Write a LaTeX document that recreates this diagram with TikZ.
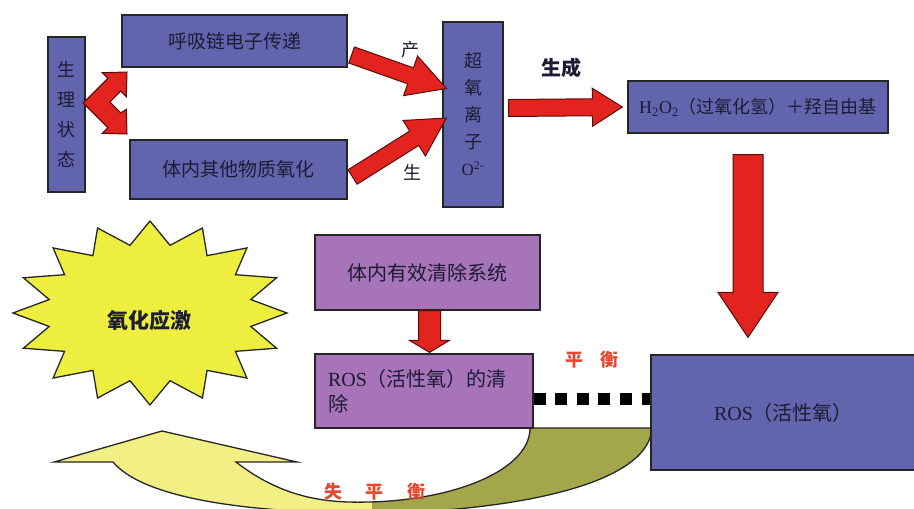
\documentclass[tikz,border=0pt]{standalone}
\usepackage{fontspec}
\setmainfont{Liberation Serif}
\newfontfamily\cjk{Noto Sans CJK SC}
\usetikzlibrary{calc}
\definecolor{boxblue}{HTML}{6264AE}
\definecolor{boxpurple}{HTML}{A774B9}
\definecolor{arrred}{HTML}{E2231E}
\definecolor{arrdark}{HTML}{5A0C0C}
\definecolor{staryellow}{HTML}{EEEE40}
\definecolor{arrowyellow}{HTML}{F2EF84}
\definecolor{arrowolive}{HTML}{A4A64C}
\definecolor{txt}{HTML}{1C1C34}
\definecolor{redtxt}{HTML}{E8472F}
\tikzset{
 bluebox/.style={draw=black!85, line width=1.2pt, fill=boxblue, inner sep=0pt, text=txt},
 purplebox/.style={draw=black!85, line width=1.2pt, fill=boxpurple, inner sep=0pt, text=txt},
 fatarr/.style={fill=arrred, draw=arrdark, line width=1pt, line join=miter},
 lbl/.style={font=\cjk\fontsize{18}{18}\selectfont, text=txt},
 redlbl/.style={font=\cjk\bfseries\fontsize{18}{18}\selectfont, text=redtxt},
 dotline/.style={line width=12pt, dash pattern=on 12pt off 9.6pt, black},
}
\newcommand{\fatarrow}[5]{%
  \coordinate (fab) at ($(#2)!#5!(#1)$);
  \path[fatarr] ($(#1)!#3!90:(#2)$) -- ($(fab)!#3!-90:(#1)$) -- ($(fab)!#4!-90:(#1)$) -- (#2)
    -- ($(fab)!#4!90:(#1)$) -- ($(fab)!#3!90:(#1)$) -- ($(#1)!#3!-90:(#2)$) -- cycle;
}
\newcommand{\yarrowpath}{(54,462) -- (162,431) -- (297,462) -- (236,462)
  .. controls (285,500) and (330,503) .. (369,502)
  .. controls (455,500) and (530,470) .. (530,428) -- (652,428)
  .. controls (648,492) and (480,513) .. (369,513)
  .. controls (255,513) and (145,500) .. (113,462) -- cycle}
\begin{document}
\begin{tikzpicture}[x=1pt,y=-1pt]
\useasboundingbox (0,0) rectangle (914,509);
\fill[white] (0,0) rectangle (914,509);

% star
\begin{scope}[shift={(150,313)}]
\draw[fill=staryellow, draw=black!85, line width=1.3pt, line join=miter]
  (0:137 and 92) \foreach \i [evaluate=\i as \f using {mod(\i,2)==0?1:0.75}] in {1,...,31} { -- ({11.25*\i}:{137*\f} and {92*\f}) } -- cycle;
\end{scope}
\node[font=\cjk\bfseries\fontsize{21}{21}\selectfont, text=txt] (stress) at (149,320) {氧化应激};

% yellow/olive curved arrow
\fill[arrowyellow] \yarrowpath;
\begin{scope}
\clip (372,400) rectangle (700,520);
\fill[arrowolive] \yarrowpath;
\end{scope}
\draw[black!85, line width=1.3pt, line join=miter] \yarrowpath;

% boxes
\node[bluebox, minimum width=37, minimum height=155, align=center, font=\cjk\fontsize{18}{30}\selectfont] (physio) at (66.5,114.5) {生\\理\\状\\态};
\node[bluebox, minimum width=225, minimum height=52, font=\cjk\fontsize{19}{19}\selectfont] (resp) at (234.5,41) {呼吸链电子传递};
\node[bluebox, minimum width=217, minimum height=59, font=\cjk\fontsize{19}{19}\selectfont] (other) at (238.5,169.5) {体内其他物质氧化};
\node[bluebox, minimum width=60, minimum height=185, align=center, font=\cjk\fontsize{18}{27}\selectfont] (superox) at (473,114.5) {超\\氧\\离\\子\\{\rmfamily\fontsize{17}{17}\selectfont O\textsuperscript{2-}}};
\node[bluebox, minimum width=260, minimum height=52, font=\fontsize{18}{18}\selectfont] (h2o2) at (758,107) {H\textsubscript{2}O\textsubscript{2}{\cjk（过氧化氢）＋羟自由基}};
\node[purplebox, minimum width=225, minimum height=75, font=\cjk\fontsize{20}{20}\selectfont] (clear) at (427.5,272.5) {体内有效清除系统};
\node[purplebox, minimum width=218, minimum height=74, text width=192, align=left, font=\fontsize{20}{25}\selectfont] (rosclear) at (424,391) {ROS{\cjk（活性氧）的清}\\{\cjk 除}};
\node[bluebox, minimum width=265, minimum height=115, font=\fontsize{20}{20}\selectfont] (ros) at (783.5,412.5) {ROS{\cjk（活性氧）}};

% bent double arrow
\path[fatarr] (83.2,103) -- (107.9,78.3) -- (102.3,72.7) -- (127,72) -- (126.3,96.7) -- (120.7,91.1)
  -- (109.8,102) -- (120.7,112.9) -- (126.3,109.3) -- (127,134) -- (102.3,133.3) -- (107.9,127.7) -- cycle;

% fat arrows
\coordinate (a1s) at ($(resp.east)+(4,14)$);
\coordinate (a1e) at ($(superox.west)+(4,-26)$);
\fatarrow{a1s}{a1e}{8.5pt}{21pt}{38pt}
\coordinate (a2s) at ($(other.east)+(5,7.5)$);
\coordinate (a2e) at ($(superox.west)+(4,3.5)$);
\fatarrow{a2s}{a2e}{8.5pt}{21pt}{38pt}
\coordinate (a3s) at ($(superox.east)+(5,-6.5)$);
\coordinate (a3e) at ($(h2o2.west)+(-5,0)$);
\fatarrow{a3s}{a3e}{8.5pt}{19pt}{30pt}
\coordinate (a4s) at ($(h2o2.south)+(-10,21)$);
\coordinate (a4e) at ($(ros.north)+(-35.5,-17)$);
\fatarrow{a4s}{a4e}{15pt}{30pt}{45pt}
\coordinate (a5s) at ($(clear.south)+(2,0)$);
\coordinate (a5e) at ($(rosclear.north)+(5.5,-1)$);
\fatarrow{a5s}{a5e}{11pt}{20pt}{12pt}

% dotted balance line
\coordinate (d1) at ($(rosclear.east)+(0,8)$);
\draw[dotline] (d1) -- (d1 -| ros.west);

% labels
\node[lbl] (chan) at (410,50) {产};
\node[lbl] (sheng) at (412,172) {生};
\node[font=\cjk\bfseries\fontsize{20}{20}\selectfont, text=txt] (shengcheng) at (561,68) {生成};
\node[redlbl] (pingheng) at (592,360) {平\hspace{17pt}衡};
\node[redlbl] (shiph) at (375,492) {失\hspace{24pt}平\hspace{24pt}衡};
\end{tikzpicture}
\end{document}
